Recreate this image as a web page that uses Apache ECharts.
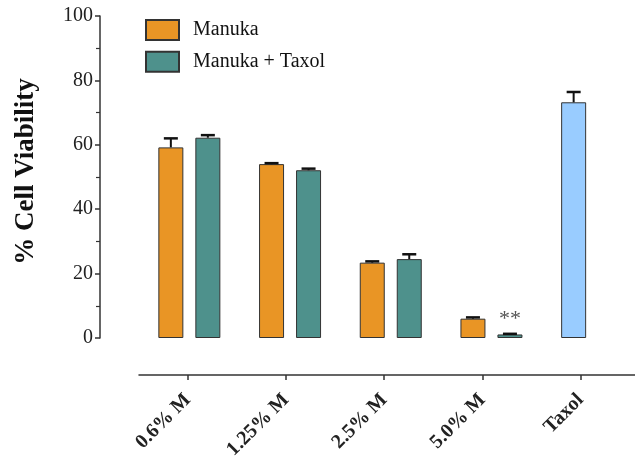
<!DOCTYPE html>
<html>
<head>
<meta charset="utf-8">
<script src="https://cdn.jsdelivr.net/npm/echarts@6/dist/echarts.min.js"></script>
<style>
html,body{margin:0;padding:0;background:#fff;}
#c{width:635px;height:461px;}
</style>
</head>
<body>
<div id="c"></div>
<script>
// ---- data ----
var categories = ['0.6% M', '1.25% M', '2.5% M', '5.0% M', 'Taxol'];
var manuka = [59.2, 54.0, 23.4, 6.0, '-'];
var manukaErr = [2.8, 0.3, 0.4, 0.4, '-'];
var manukaTaxol = [62.2, 52.1, 24.5, 1.1, '-'];
var manukaTaxolErr = [0.8, 0.5, 1.5, 0.2, '-'];
var taxol = ['-', '-', '-', '-', 73.2];
var taxolErr = ['-', '-', '-', '-', 3.2];
var yTicks = [0, 20, 40, 60, 80, 100];

var FONT = '"Liberation Serif", "Times New Roman", serif';
var BAR_W = 25, BAR_GAP = 12;
var OFF = (BAR_W + BAR_GAP) / 2;

function errData(vals, errs, slot) {
  var out = [];
  for (var i = 0; i < vals.length; i++) {
    if (vals[i] === '-') continue;
    out.push([i, vals[i], vals[i] + errs[i], slot]);
  }
  return out;
}
var errAll = errData(manuka, manukaErr, -1)
  .concat(errData(manukaTaxol, manukaTaxolErr, 1))
  .concat(errData(taxol, taxolErr, -1));

var chart = echarts.init(document.getElementById('c'), null, {renderer: 'canvas'});
var option = {
  animation: false,
  backgroundColor: '#fff',
  legend: {
    data: ['Manuka', 'Manuka + Taxol'],
    orient: 'vertical',
    left: 140, top: 14,
    itemWidth: 33, itemHeight: 20, itemGap: 9.7,
    icon: 'rect',
    textStyle: {fontFamily: FONT, fontSize: 20, color: '#111', padding: [0, 0, 0, 9]}
  },
  grid: {left: 139, width: 503.5, top: 16, bottom: 123, containLabel: false, outerBoundsMode: 'none'},
  xAxis: [{
    type: 'category', data: categories, show: false
  }, {
    type: 'value', min: -0.496, max: 4.63, position: 'bottom', offset: 37,
    axisLine: {show: true, onZero: false, lineStyle: {color: '#333', width: 1.5}},
    axisTick: {show: true, customValues: [0, 1, 2, 3, 4], length: 5, lineStyle: {color: '#333', width: 1.5}},
    axisLabel: {
      customValues: [0, 1, 2, 3, 4], rotate: 45, margin: 22,
      fontFamily: FONT, fontWeight: 'bold', fontSize: 20, color: '#222',
      formatter: function (v) { return categories[Math.round(v)]; }
    },
    splitLine: {show: false}
  }],
  yAxis: {
    type: 'value', min: 0, max: 100, interval: 20, offset: 39,
    name: '% Cell Viability', nameLocation: 'middle', nameGap: 60,
    nameTextStyle: {fontFamily: FONT, fontWeight: 'bold', fontSize: 27, color: '#111', padding: [0, 0, 0, 11]},
    axisLine: {show: true, onZero: false, lineStyle: {color: '#333', width: 1.5}},
    axisTick: {show: true, length: 5, lineStyle: {color: '#333', width: 1.5}},
    minorTick: {show: true, splitNumber: 2, length: 4, lineStyle: {color: '#333', width: 1.2}},
    axisLabel: {fontFamily: FONT, fontSize: 20, color: '#222', margin: 7},
    splitLine: {show: false}
  },
  series: [{
    name: 'Manuka', type: 'bar', stack: 'a', data: manuka,
    barWidth: BAR_W, barGap: (BAR_GAP / BAR_W * 100) + '%',
    itemStyle: {color: '#E99525', borderColor: '#333', borderWidth: 1}
  }, {
    name: 'Manuka + Taxol', type: 'bar', stack: 'b',
    data: manukaTaxol.map(function (v, i) {
      if (i === 3) return {value: v, label: {show: true, formatter: '**', position: 'top', distance: 4, fontFamily: FONT, fontSize: 22, color: '#555'}};
      return v;
    }),
    barWidth: BAR_W,
    itemStyle: {color: '#4E918C', borderColor: '#333', borderWidth: 1}
  }, {
    name: 'Taxol', type: 'bar', stack: 'a', data: taxol,
    barWidth: BAR_W,
    itemStyle: {color: '#99CCFF', borderColor: '#333', borderWidth: 1}
  }, {
    name: 'err', type: 'custom', data: errAll, z: 5,
    renderItem: function (params, api) {
      var top = api.coord([api.value(0), api.value(2)]);
      var base = api.coord([api.value(0), api.value(1)]);
      var x = top[0] + api.value(3) * OFF;
      var hw = 7;
      return {
        type: 'group',
        children: [{
          type: 'line', shape: {x1: x, y1: base[1], x2: x, y2: top[1]},
          style: {stroke: '#111', lineWidth: 2}
        }, {
          type: 'line', shape: {x1: x - hw, y1: top[1], x2: x + hw, y2: top[1]},
          style: {stroke: '#111', lineWidth: 2.5}
        }]
      };
    }
  }]
};
chart.setOption(option);
</script>
</body>
</html>
